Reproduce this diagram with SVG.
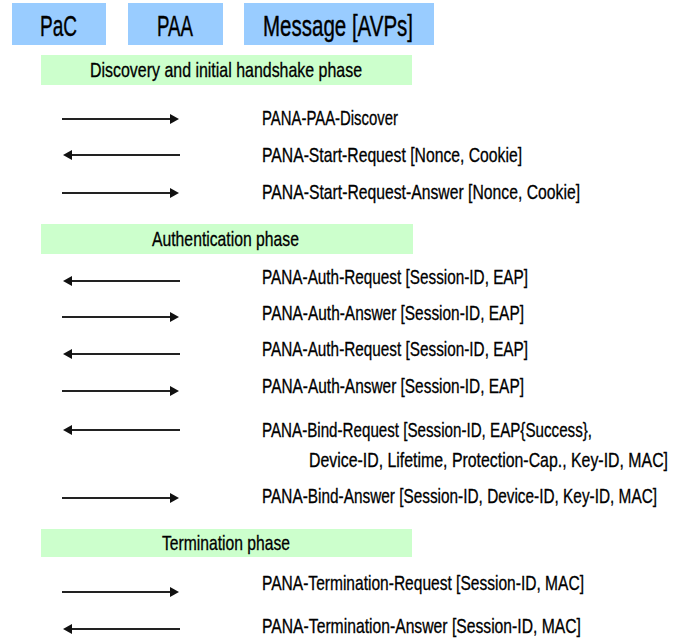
<svg xmlns="http://www.w3.org/2000/svg" width="685" height="641" viewBox="0 0 685 641">
<defs>
<marker id="ah" markerUnits="userSpaceOnUse" markerWidth="9" markerHeight="11" refX="2" refY="5.5" orient="auto">
<path d="M0,0.5 L9,5.5 L0,10.5 z" fill="#111"/>
</marker>
</defs>
<style>
.hdr{fill:#99ccff}
.band{fill:#ccffcc}
.ht{font-family:"Liberation Sans","DejaVu Sans",sans-serif;font-size:30px;fill:#000;stroke:#000;stroke-width:0.4}
.bt{font-family:"Liberation Sans","DejaVu Sans",sans-serif;font-size:20px;fill:#000;stroke:#000;stroke-width:0.3}
.mt{font-family:"Liberation Sans","DejaVu Sans",sans-serif;font-size:20px;fill:#000;stroke:#000;stroke-width:0.3}
.conn line{stroke:#222;stroke-width:2;marker-end:url(#ah)}
</style>
<rect width="685" height="641" fill="#fff"/>
<g id="pac">
<rect class="hdr" x="12" y="3" width="94" height="42"/>
<text class="ht" transform="translate(40,36) scale(0.65,1)" textLength="57" lengthAdjust="spacingAndGlyphs">PaC</text>
</g>
<g id="paa">
<rect class="hdr" x="128" y="3" width="95" height="42"/>
<text class="ht" transform="translate(157,36) scale(0.65,1)" textLength="55.4" lengthAdjust="spacingAndGlyphs">PAA</text>
</g>
<g id="message-avps">
<rect class="hdr" x="244" y="3" width="190" height="42"/>
<text class="ht" transform="translate(263,36) scale(0.65,1)" textLength="230.8" lengthAdjust="spacingAndGlyphs">Message [AVPs]</text>
</g>
<g id="phase-discovery">
<rect class="band" x="41" y="55" width="371" height="30"/>
<text class="bt" transform="translate(90,77) scale(0.75,1)" textLength="362.7" lengthAdjust="spacingAndGlyphs">Discovery and initial handshake phase</text>
</g>
<g id="phase-auth">
<rect class="band" x="41" y="224" width="372" height="30"/>
<text class="bt" transform="translate(152,246) scale(0.75,1)" textLength="196" lengthAdjust="spacingAndGlyphs">Authentication phase</text>
</g>
<g id="phase-term">
<rect class="band" x="41" y="529" width="371" height="28"/>
<text class="bt" transform="translate(162,550) scale(0.75,1)" textLength="170.7" lengthAdjust="spacingAndGlyphs">Termination phase</text>
</g>
<g id="msg-discover"><text class="mt" transform="translate(262,125) scale(0.75,1)" textLength="181.3" lengthAdjust="spacingAndGlyphs">PANA-PAA-Discover</text></g>
<g id="msg-start-req"><text class="mt" transform="translate(262,162) scale(0.75,1)" textLength="346.7" lengthAdjust="spacingAndGlyphs">PANA-Start-Request [Nonce, Cookie]</text></g>
<g id="msg-start-ans"><text class="mt" transform="translate(262,199) scale(0.75,1)" textLength="424" lengthAdjust="spacingAndGlyphs">PANA-Start-Request-Answer [Nonce, Cookie]</text></g>
<g id="msg-auth-req1"><text class="mt" transform="translate(262,284) scale(0.75,1)" textLength="354.7" lengthAdjust="spacingAndGlyphs">PANA-Auth-Request [Session-ID, EAP]</text></g>
<g id="msg-auth-ans1"><text class="mt" transform="translate(262,320) scale(0.75,1)" textLength="349.3" lengthAdjust="spacingAndGlyphs">PANA-Auth-Answer [Session-ID, EAP]</text></g>
<g id="msg-auth-req2"><text class="mt" transform="translate(262,356) scale(0.75,1)" textLength="354.7" lengthAdjust="spacingAndGlyphs">PANA-Auth-Request [Session-ID, EAP]</text></g>
<g id="msg-auth-ans2"><text class="mt" transform="translate(262,393) scale(0.75,1)" textLength="349.3" lengthAdjust="spacingAndGlyphs">PANA-Auth-Answer [Session-ID, EAP]</text></g>
<g id="msg-bind-req">
<text class="mt" transform="translate(262,437) scale(0.75,1)" textLength="440" lengthAdjust="spacingAndGlyphs">PANA-Bind-Request [Session-ID, EAP{Success},</text>
<text class="mt" transform="translate(309,467) scale(0.75,1)" textLength="478.7" lengthAdjust="spacingAndGlyphs">Device-ID, Lifetime, Protection-Cap., Key-ID, MAC]</text>
</g>
<g id="msg-bind-ans"><text class="mt" transform="translate(262,503) scale(0.75,1)" textLength="526.7" lengthAdjust="spacingAndGlyphs">PANA-Bind-Answer [Session-ID, Device-ID, Key-ID, MAC]</text></g>
<g id="msg-term-req"><text class="mt" transform="translate(262,590) scale(0.75,1)" textLength="429.3" lengthAdjust="spacingAndGlyphs">PANA-Termination-Request [Session-ID, MAC]</text></g>
<g id="msg-term-ans"><text class="mt" transform="translate(262,633) scale(0.75,1)" textLength="425.3" lengthAdjust="spacingAndGlyphs">PANA-Termination-Answer [Session-ID, MAC]</text></g>
<g id="connectors" class="conn">
<line x1="62" y1="119" x2="172" y2="119"/>
<line x1="180" y1="155" x2="70" y2="155"/>
<line x1="62" y1="193" x2="172" y2="193"/>
<line x1="180" y1="281" x2="70" y2="281"/>
<line x1="62" y1="317" x2="172" y2="317"/>
<line x1="180" y1="354" x2="70" y2="354"/>
<line x1="62" y1="391" x2="172" y2="391"/>
<line x1="180" y1="430" x2="70" y2="430"/>
<line x1="62" y1="498" x2="172" y2="498"/>
<line x1="62" y1="592" x2="172" y2="592"/>
<line x1="180" y1="629" x2="70" y2="629"/>
</g>
</svg>
